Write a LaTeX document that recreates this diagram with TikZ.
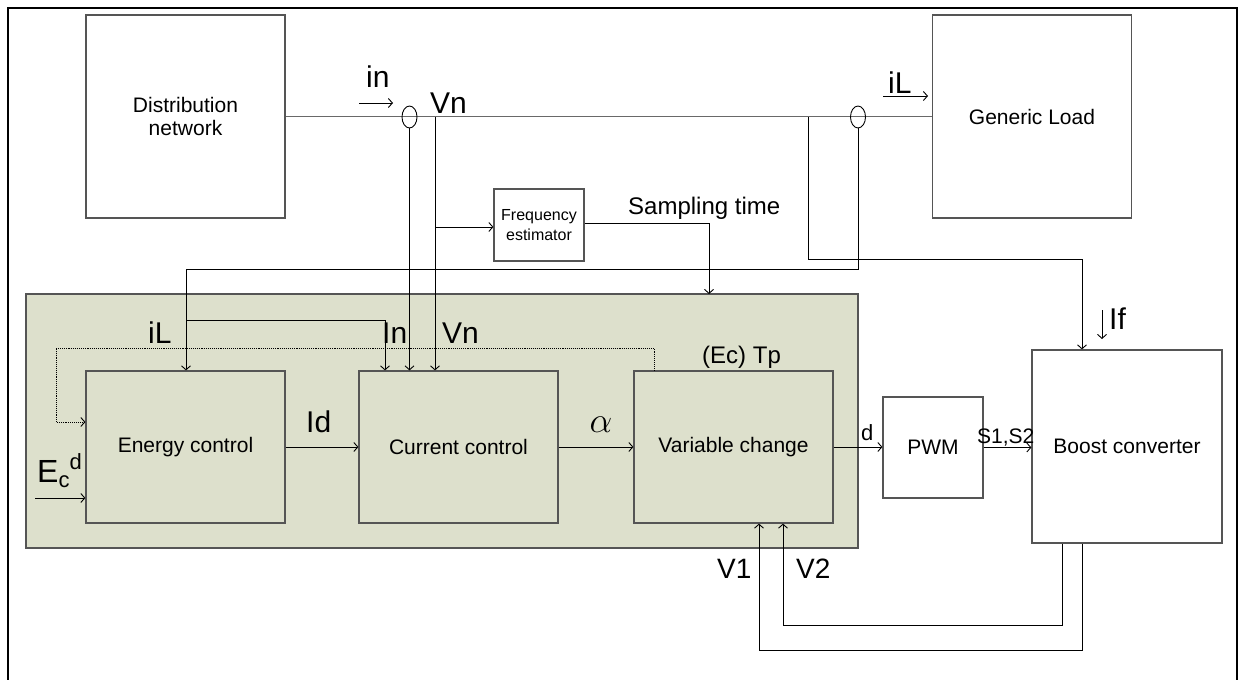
\documentclass[tikz,border=0pt]{standalone}
\usepackage{fontspec}
\usepackage{graphicx}
\setmainfont{Liberation Sans}
\usetikzlibrary{arrows.meta,positioning,shapes.geometric,calc}
\definecolor{PanelGreen}{RGB}{221,224,204}
\definecolor{EdgeGray}{RGB}{85,85,85}
\definecolor{WireGray}{RGB}{105,105,105}

\begin{document}
\begin{tikzpicture}[x=1pt, y=-1pt,
    block/.style={draw=EdgeGray, line width=1.2pt, minimum width=199pt, minimum height=152pt, align=center, inner sep=0pt, font=\fontsize{21}{23}\selectfont},
    lbl/.style={inner sep=0pt, anchor=base west, font=\fontsize{30}{32}\selectfont},
    midlbl/.style={inner sep=0pt, anchor=base west, font=\fontsize{24}{26}\selectfont},
    sensor/.style={draw, ellipse, line width=0.9pt, minimum width=15pt, minimum height=22pt, inner sep=0pt},
    sig/.style={line width=0.9pt},
    arrow/.style={sig, -{Straight Barb[length=4pt, width=9pt]}},
    wire/.style={draw=WireGray, line width=1.4pt}
  ]
  \useasboundingbox (0,0) rectangle (1240,680);
  \draw[line width=2.5pt] (8,690) -- (8,8) -- (1237,8) -- (1237,690);

  % control panel
  \node[draw=EdgeGray, line width=1.2pt, fill=PanelGreen, minimum width=832pt, minimum height=254pt, inner sep=0pt] (ctrl) at (442,421) {};

  % power side
  \node[block, minimum height=203pt] (dist) at (185.5,116.5) {Distribution\\network};
  \node[block, minimum height=203pt] (load) at (1032,116.5) {Generic Load};
  \draw[wire] (dist.east) -- (load.west);
  \node[sensor] (ctA) at (409.5,117) {};
  \node[sensor] (ctB) at (858,117) {};

  % blocks
  \node[block] (energy) at (185.5,447) {Energy control};
  \node[block] (current) at (458.5,447) {Current control};
  \node[block] (varchg) at (733.5,447) {Variable change};
  \node[block, minimum width=100pt, minimum height=101pt] (pwm) at (933,447.5) {PWM};
  \node[block, minimum width=190pt, minimum height=193pt] (boost) at (1127,446.5) {Boost converter};
  \node[block, minimum width=90pt, minimum height=72pt, font=\fontsize{16}{20}\selectfont] (freq) at (539,225) {Frequency\\estimator};

  % turning points
  \coordinate (vnTap) at (435,117);
  \coordinate (loadTap) at (808,117);
  \coordinate (ifTurn) at (1082,259);
  \coordinate (ilTurn) at (186,269);
  \coordinate (ilSplit) at (186,320);
  \coordinate (ilIn) at (385,320);
  \coordinate (sampDrop) at (709,294);
  \coordinate (tpUp) at (654,348);
  \coordinate (tpLeft) at (56,348);
  \coordinate (ecStart) at (35,498);
  \coordinate (v2Low) at (783,625);
  \coordinate (v1Low) at (759,650);
  \coordinate (inS) at (359,103);
  \coordinate (inE) at (393,103);
  \coordinate (ilS) at (883,96);
  \coordinate (ilE) at (928,96);
  \coordinate (ifS) at (1102,310);
  \coordinate (ifE) at (1102,339);

  % measurements
  \draw[arrow] (ctA.south) -- (ctA.south |- current.north);
  \draw[arrow] (vnTap) -- (vnTap |- current.north);
  \draw[arrow] ([yshift=-2pt]vnTap |- freq.west) -- ([yshift=-2pt]freq.west);
  \draw[arrow] ([yshift=2pt]freq.east) -| (sampDrop);
  \draw[arrow] (ctB.south) |- (ilTurn) -- (ilTurn |- energy.north);
  \draw[arrow] (ilSplit) -- (ilIn) -- (ilIn |- current.north);
  \draw[arrow] (loadTap) |- (ifTurn) -- (ifTurn |- boost.north);
  \draw[arrow, densely dotted] (tpUp |- varchg.north) -- (tpUp) -- (tpLeft) |- ([yshift=25pt]energy.west);
  \draw[arrow] (ecStart) -- (ecStart -| energy.west);

  % forward path
  \draw[arrow] (energy) -- (current);
  \draw[arrow] (current) -- (varchg);
  \draw[arrow] (varchg.east) -- (varchg.east -| pwm.west);
  \draw[arrow] (pwm.east) -- (pwm.east -| boost.west);
  \draw[arrow] ([xshift=-65pt]boost.south) |- (v2Low) -- (v2Low |- varchg.south);
  \draw[arrow] ([xshift=-45pt]boost.south) |- (v1Low) -- (v1Low |- varchg.south);

  % current direction marks
  \draw[arrow] (inS) -- (inE);
  \draw[arrow] (ilS) -- (ilE);
  \draw[arrow] (ifS) -- (ifE);

  % labels
  \node[lbl] (inLbl) at (366,87) {in};
  \node[lbl] (vnTop) at (430,113) {Vn};
  \node[lbl] (ilTop) at (888,93) {iL};
  \node[midlbl] (sampLbl) at (628,214) {Sampling time};
  \node[lbl] (ilLbl) at (148,343) {iL};
  \node[lbl] (inInner) at (382,343) {In};
  \node[lbl] (vnInner) at (442,343) {Vn};
  \node[lbl] (idLbl) at (306,432) {Id};
  \node[inner sep=0pt, font=\fontsize{24}{26}\selectfont] (alphaLbl) at (601,425) {\scalebox{1.45}{$\alpha$}};
  \node[midlbl] (tpLbl) at (702,363) {(Ec) Tp};
  \node[lbl, font=\fontsize{22}{24}\selectfont] (dLbl) at (861,440) {d};
  \node[lbl, font=\fontsize{21}{23}\selectfont] (sLbl) at (977,443) {S1,S2};
  \node[lbl] (ifLbl) at (1109,329) {If};
  \node[lbl, font=\fontsize{28}{30}\selectfont] (v1Lbl) at (717,578) {V1};
  \node[lbl, font=\fontsize{28}{30}\selectfont] (v2Lbl) at (796,578) {V2};
  \node[lbl, font=\fontsize{32}{34}\selectfont] (ecLbl) at (37,482) {E\raisebox{-5pt}{\fontsize{22}{22}\selectfont c}\raisebox{13pt}{\fontsize{22}{22}\selectfont d}};
\end{tikzpicture}
\end{document}
